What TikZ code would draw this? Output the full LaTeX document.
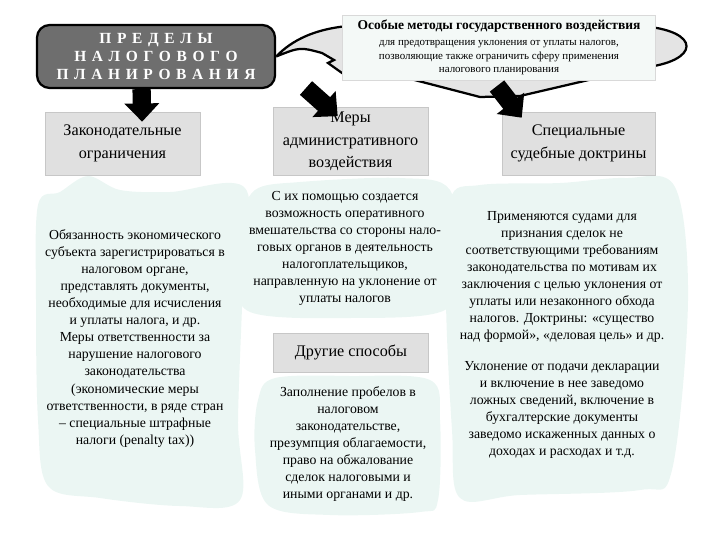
\documentclass[tikz,border=0pt]{standalone}
\usepackage{fontspec}
\setmainfont{Liberation Serif}
\usepackage{xcolor}
\usetikzlibrary{arrows.meta, calc}
\definecolor{blobcol}{RGB}{235,246,243}
\definecolor{boxgray}{RGB}{224,224,224}
\definecolor{darkbox}{RGB}{110,110,110}
\definecolor{callgray}{RGB}{228,228,228}
\definecolor{paper}{RGB}{244,249,247}
\newcommand{\widesp}{\spaceskip=4pt plus 1pt\relax}

\begin{document}
\begin{tikzpicture}[x=0.025cm, y=-0.025cm,
    graybox/.style={draw=black!22, fill=boxgray, minimum width=3.875cm, minimum height=1.575cm, align=center, font=\fontsize{11.5}{16}\selectfont},
    txt/.style={align=center, font=\fontsize{9.8}{12.1}\selectfont},
    bigarrow/.style={line width=13pt, -{Triangle[width=24pt,length=13pt]}}]
    \useasboundingbox (0,0) rectangle (720,540);
    % blobs behind the texts
    \fill[blobcol] plot[smooth cycle, tension=0.55] coordinates {(38,205) (60,192) (88,176) (120,190) (170,192) (245,188) (243,280) (238,420) (240,500) (180,506) (100,498) (48,486) (38,420) (36,300)};
    \fill[blobcol] plot[smooth cycle, tension=0.55] coordinates {(240,225) (255,190) (300,182) (400,178) (450,190) (455,260) (445,310) (350,318) (250,312) (237,270)};
    \fill[blobcol] plot[smooth cycle, tension=0.55] coordinates {(258,400) (275,378) (350,376) (430,380) (440,420) (438,500) (420,512) (330,515) (268,505) (255,450)};
    \fill[blobcol] plot[smooth cycle, tension=0.55] coordinates {(450,200) (480,185) (560,183) (625,178) (675,187) (688,300) (672,470) (640,490) (520,495) (460,498) (452,430) (446,300)};

    \node[draw=black, line width=1.6pt, fill=darkbox, rounded corners=9pt, minimum width=5.95cm, minimum height=1.575cm, text=white, align=center,
          font=\fontsize{11}{12.5}\selectfont\bfseries] (pred) at (156,56.5)
          {\widesp П Р Е Д Е Л Ы\\ \widesp Н А Л О Г О В О Г О\\ \widesp П Л А Н И Р О В А Н И Я};

    % callout behind the top box
    \draw[fill=callgray, line width=1.6pt] (pred.east) .. controls (292,40) and (315,29) .. (348,26) -- (640,26)
        .. controls (702,30) and (702,62) .. (640,68) -- (520,96) -- (480,97) -- (376,70) -- (342,73)
        -- (328,63) -- (334,60) -- (322,53) .. controls (300,47) .. (pred.east);
    \node[draw=black!15, fill=paper, minimum width=7.825cm, minimum height=1.575cm, align=center,
          font=\fontsize{7.8}{9.6}\selectfont] (osob) at (499,47.5)
          {{\fontsize{9.6}{12}\selectfont\bfseries Особые методы государственного воздействия}\\[2pt]
           для предотвращения уклонения от уплаты налогов,\\ позволяющие также ограничить сферу применения\\ налогового планирования};
    \coordinate (ctip) at (497,86);
    \coordinate (m0) at (306,88);

    \node[graybox] (zak) at (122.5,143.5) {Законодательные\\ ограничения};
    \node[graybox] (mery) at (350.5,141.5) {Меры\\ административного\\ воздействия};
    \node[graybox, minimum width=3.825cm] (sud) at (578.5,143.5) {Специальные\\ судебные доктрины};
    \node[graybox, minimum height=0.975cm] (drug) at (351,352.5) {Другие способы};

    \draw[bigarrow] ($(pred.south west)!0.44!(pred.south east)$) -- ($(zak.north west)!0.626!(zak.north east)+(0,10)$);
    \draw[bigarrow] (m0) -- ($(mery.north west)+(65,9)$);
    \draw[bigarrow] (ctip) -- ($(sud.north west)+(20,6)$);

    \node[txt] (t1) at (135,338.5) {Обязанность экономического\\ субъекта зарегистрироваться в\\ налоговом органе,\\ представлять документы,\\ необходимые для исчисления\\ и уплаты налога, и др.\\ Меры ответственности за\\ нарушение налогового\\ законодательства\\ (экономические меры\\ ответственности, в ряде стран\\ -- специальные штрафные\\ налоги (penalty tax))};
    \node[txt] (t2) at (345,248) {С их помощью создается\\ возможность оперативного\\ вмешательства со стороны нало-\\ говых органов в деятельность\\ налогоплательщиков,\\ направленную на уклонение от\\ уплаты налогов};
    \node[txt] (t3) at (348,444) {Заполнение пробелов в\\ налоговом\\ законодательстве,\\ презумпция облагаемости,\\ право на обжалование\\ сделок налоговыми и\\ иными органами и др.};
    \node[txt] (t4) at (562,277) {Применяются судами для\\ признания сделок не\\ соответствующими требованиям\\ законодательства по мотивам их\\ заключения с целью уклонения от\\ уплаты или незаконного обхода\\ налогов. Доктрины: «существо\\ над формой», «деловая цель» и др.};
    \node[txt] (t5) at (562,410) {Уклонение от подачи декларации\\ и включение в нее заведомо\\ ложных сведений, включение в\\ бухгалтерские документы\\ заведомо искаженных данных о\\ доходах и расходах и т.д.};
\end{tikzpicture}
\end{document}
